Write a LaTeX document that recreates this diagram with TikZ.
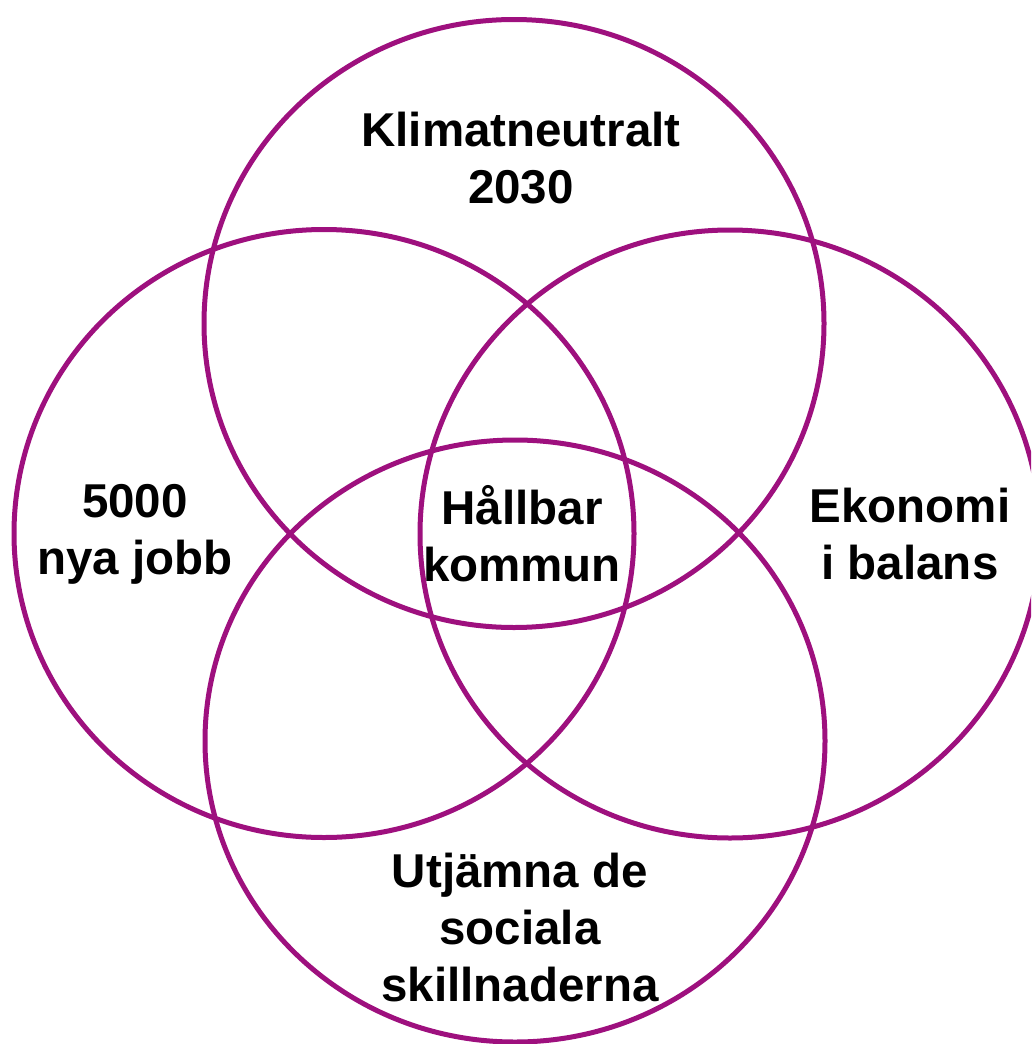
\documentclass[tikz,border=0pt]{standalone}
\usepackage{fontspec}
\setmainfont{Liberation Sans}
\definecolor{ringpurple}{RGB}{158,16,126}
\begin{document}
\begin{tikzpicture}[x=1pt,y=-1pt,
  ring/.style={draw=ringpurple,line width=5pt},
  lbl/.style={align=center,inner sep=0pt,font=\bfseries\fontsize{47.5}{57}\selectfont}]
\useasboundingbox (0,0) rectangle (1031,1044);
\begin{scope}
\clip (0,0) rectangle (1031,1044);
\draw[ring] (514,323.5) ellipse [x radius=310pt, y radius=304pt];
\draw[ring] (324,533.5) ellipse [x radius=310pt, y radius=304pt];
\draw[ring] (730,534) ellipse [x radius=310pt, y radius=304pt];
\draw[ring] (515,741) ellipse [x radius=310pt, y radius=301pt];
\end{scope}
\node[lbl] (klimat) at (521,158) {Klimatneutralt\\2030};
\node[lbl] (jobb) at (135,534) {5000\\nya jobb};
\node[lbl] (hallbar) at (522,534) {Hållbar\\kommun};
\node[lbl] (ekonomi) at (910,534) {Ekonomi\\i balans};
\node[lbl] (social) at (520,928) {Utjämna de\\sociala\\skillnaderna};
\end{tikzpicture}
\end{document}
